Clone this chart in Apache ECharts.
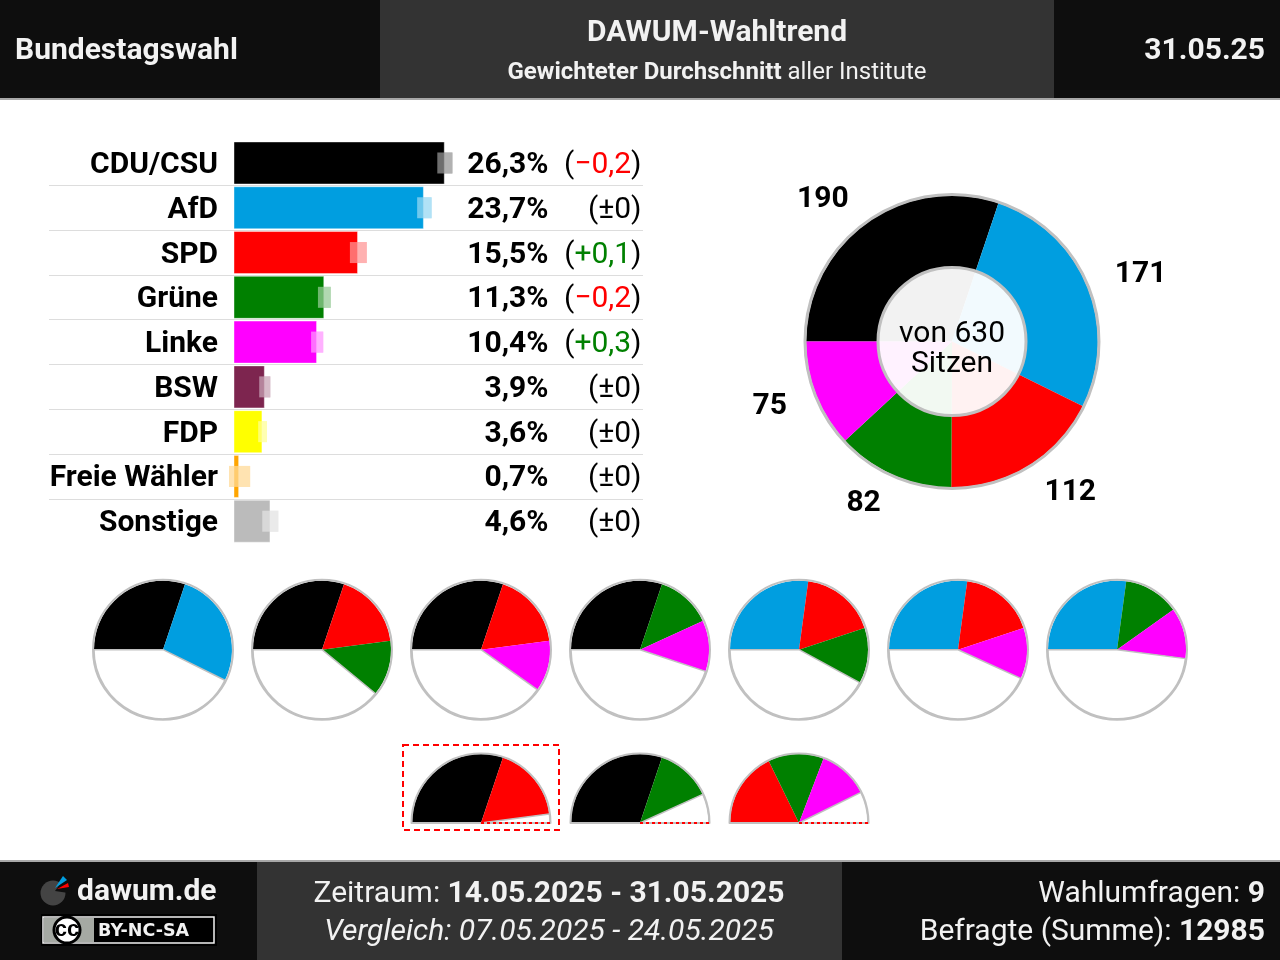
<!DOCTYPE html>
<html lang="de">
<head>
    <meta charset="UTF-8">
    <title>DAWUM-Wahltrend</title>
    <script src="https://cdn.jsdelivr.net/npm/echarts@6/dist/echarts.min.js"></script>
    <style>
        html, body { margin: 0; padding: 0; background: #fff; }
        #main { width: 1280px; height: 960px; }
    </style>
</head>
<body>
    <div id="main"></div>

    <script>
        var parties = ['CDU/CSU', 'AfD', 'SPD', 'Grüne', 'Linke', 'BSW', 'FDP', 'Freie Wähler', 'Sonstige']
        var partyColors = ['#000000', '#009ee0', '#ff0000', '#008000', '#ff00ff', '#7d254f', '#ffff00', '#ffa500', '#bbbbbb']
        var shares = [26.3, 23.7, 15.5, 11.3, 10.4, 3.9, 3.6, 0.7, 4.6]
        var rangeLow = [25.37, 22.86, 14.49, 10.51, 9.66, 3.2, 3.07, -0.56, 3.58]
        var rangeHigh = [27.25, 24.66, 16.59, 12.11, 11.17, 4.58, 4.17, 2.07, 5.58]
        var changes = [-0.2, 0, 0.1, -0.2, 0.3, 0, 0, 0, 0]

        var seatParties = ['CDU/CSU', 'AfD', 'SPD', 'Grüne', 'Linke']
        var seats = [190, 171, 112, 82, 75]
        var totalSeats = 630

        var fullCoalitions = [
            ['CDU/CSU', 'AfD'],
            ['CDU/CSU', 'SPD', 'Grüne'],
            ['CDU/CSU', 'SPD', 'Linke'],
            ['CDU/CSU', 'Grüne', 'Linke'],
            ['AfD', 'SPD', 'Grüne'],
            ['AfD', 'SPD', 'Linke'],
            ['AfD', 'Grüne', 'Linke']
        ]
        var halfCoalitions = [
            ['CDU/CSU', 'SPD'],
            ['CDU/CSU', 'Grüne'],
            ['SPD', 'Grüne', 'Linke']
        ]

        var FONT = 'Roboto'
        var RING = '#c0c0c0'
        var seatLabelNudge = [[2, -2], [-1, -1], [-3, 5], [3, 5], [0, 2]]
        var charts = echarts.init(document.getElementById('main'))

        function fmt(v) {
            return Math.abs(v).toFixed(1).replace('.', ',')
        }
        function changeText(v) {
            if (v === 0) return '{p|(±0)}'
            if (v < 0) return '{p|(}{r|−' + fmt(v) + '}{p|)}'
            return '{p|(}{g|+' + fmt(v) + '}{p|)}'
        }

        var series = []

        // balken
        series.push({
            type: 'bar',
            xAxisIndex: 0,
            yAxisIndex: 0,
            barWidth: 43,
            silent: true,
            animation: false,
            z: 2,
            data: shares.map(function (v, i) {
                return {
                    value: v,
                    itemStyle: { color: partyColors[i], borderColor: 'rgba(255,255,255,0.4)', borderWidth: 1 }
                }
            })
        })

        // unsicherheits-marker
        series.push({
            type: 'custom',
            xAxisIndex: 0,
            yAxisIndex: 0,
            silent: true,
            animation: false,
            z: 3,
            encode: { x: [0, 1], y: 2 },
            data: parties.map(function (p, i) { return [rangeLow[i], rangeHigh[i], i] }),
            renderItem: function (params, api) {
                var a = api.coord([api.value(0), api.value(2)])
                var b = api.coord([api.value(1), api.value(2)])
                var shape = { x: a[0], y: a[1] - 10.5, width: b[0] - a[0], height: 21 }
                return {
                    type: 'group',
                    children: [
                        { type: 'rect', shape: shape, style: { fill: partyColors[params.dataIndex], opacity: 0.54 } },
                        { type: 'rect', shape: shape, style: { fill: 'rgba(255,255,255,0.43)' } }
                    ]
                }
            }
        })

        // parteiname, prozent und veraenderung
        series.push({
            type: 'custom',
            xAxisIndex: 0,
            yAxisIndex: 0,
            silent: true,
            animation: false,
            encode: { x: 0, y: 2 },
            data: parties.map(function (p, i) { return [shares[i], changes[i], i] }),
            renderItem: function (params, api) {
                var y = api.coord([0, api.value(2)])[1] + 2.5
                return {
                    type: 'group',
                    children: [
                        {
                            type: 'text',
                            x: 218, y: y,
                            style: {
                                text: parties[params.dataIndex],
                                align: 'right', verticalAlign: 'middle',
                                fontFamily: FONT, fontSize: 30, fontWeight: 'bold', fill: '#000'
                            }
                        },
                        {
                            type: 'text',
                            x: 548.5, y: y,
                            style: {
                                text: fmt(api.value(0)) + '%',
                                align: 'right', verticalAlign: 'middle',
                                fontFamily: FONT, fontSize: 30, fontWeight: 'bold', fill: '#000'
                            }
                        },
                        {
                            type: 'text',
                            x: 641.5, y: y,
                            style: {
                                text: changeText(api.value(1)),
                                align: 'right', verticalAlign: 'middle',
                                rich: {
                                    p: { fontFamily: FONT, fontSize: 30, fill: '#000', color: '#000' },
                                    r: { fontFamily: FONT, fontSize: 30, fill: '#ff0000', color: '#ff0000' },
                                    g: { fontFamily: FONT, fontSize: 30, fill: '#008000', color: '#008000' }
                                }
                            }
                        }
                    ]
                }
            }
        })

        // sitzverteilung
        series.push({
            type: 'pie',
            center: [952, 341.5],
            radius: [0, 146],
            startAngle: 180,
            clockwise: true,
            silent: true,
            animation: false,
            label: {
                show: true,
                position: 'outside',
                formatter: '{c}',
                color: '#000',
                fontFamily: FONT,
                fontSize: 30,
                fontWeight: 'bold'
            },
            labelLine: { show: false, length: 26, length2: 0 },
            labelLayout: function (params) {
                var n = seatLabelNudge[params.dataIndex]
                return { dx: n[0], dy: n[1] }
            },
            data: seats.map(function (v, i) {
                return { name: seatParties[i], value: v, itemStyle: { color: partyColors[parties.indexOf(seatParties[i])] } }
            })
        })
        series.push(outline([952, 341.5], 147, 3, 360))
        series.push({
            type: 'pie',
            center: [952, 341.5],
            radius: [0, 74],
            silent: true,
            animation: false,
            z: 5,
            label: {
                show: true,
                position: 'center',
                offset: [0, 8],
                formatter: 'von ' + totalSeats + '\nSitzen',
                color: '#000',
                fontFamily: FONT,
                fontSize: 30,
                lineHeight: 30
            },
            itemStyle: { color: 'rgba(255,255,255,0.95)', borderColor: RING, borderWidth: 3 },
            data: [{ value: 1 }]
        })

        function outline(center, r, width, sweep) {
            return {
                type: 'pie',
                center: center,
                radius: [0, r],
                startAngle: 180,
                endAngle: 180 - sweep,
                silent: true,
                animation: false,
                z: 4,
                label: { show: false },
                labelLine: { show: false },
                itemStyle: { color: 'rgba(255,255,255,0)', borderColor: RING, borderWidth: width },
                data: [{ value: 1 }]
            }
        }

        function coalitionPie(members, center, total, half) {
            var sum = 0
            var data = members.map(function (name) {
                var v = seats[seatParties.indexOf(name)]
                sum += v
                return { name: name, value: v, itemStyle: { color: partyColors[parties.indexOf(name)] } }
            })
            data.push({
                name: 'Rest',
                value: total - sum,
                itemStyle: { color: '#fff', borderColor: RING, borderWidth: 1.5 }
            })
            return {
                type: 'pie',
                center: center,
                radius: [0, 69],
                startAngle: 180,
                endAngle: half ? 0 : -180,
                silent: true,
                animation: false,
                label: { show: false },
                labelLine: { show: false },
                data: data
            }
        }

        var topX = [163, 322, 481, 640, 799, 958, 1117]
        fullCoalitions.forEach(function (m, i) {
            series.push(coalitionPie(m, [topX[i], 649.7], totalSeats, false))
            series.push(outline([topX[i], 649.7], 70, 2, 360))
        })
        var bottomX = [481, 640, 799]
        halfCoalitions.forEach(function (m, i) {
            series.push(coalitionPie(m, [bottomX[i], 823], totalSeats / 2, true))
            series.push(outline([bottomX[i], 823], 69.5, 2, 180))
        })

        // kopf und fuss
        function box(x, y, w, h, fill) {
            return { type: 'rect', shape: { x: x, y: y, width: w, height: h }, style: { fill: fill } }
        }
        function label(x, y, text, align, size, rich, opts) {
            var style = {
                text: text,
                align: align,
                verticalAlign: 'middle',
                fontFamily: FONT,
                fontSize: size,
                fill: '#f2f2f2'
            }
            if (rich) style.rich = rich
            for (var k in (opts || {})) style[k] = opts[k]
            return { type: 'text', x: x, y: y, style: style }
        }
        function boldRich(size) {
            return {
                b: { fontFamily: FONT, fontSize: size, fontWeight: 'bold', fill: '#f2f2f2', color: '#f2f2f2' },
                n: { fontFamily: FONT, fontSize: size, fill: '#f2f2f2', color: '#f2f2f2' }
            }
        }

        var graphics = [
            box(0, 0, 1280, 98, '#0e0e0e'),
            box(380, 0, 674, 98, '#333333'),
            box(0, 98, 1280, 2, '#a8a8a8'),
            label(15, 51, 'Bundestagswahl', 'left', 30, null, { fontWeight: 'bold' }),
            label(717, 33, 'DAWUM-Wahltrend', 'center', 30, null, { fontWeight: 'bold' }),
            label(717, 73, '{b|Gewichteter Durchschnitt} {n|aller Institute}', 'center', 24, boldRich(24)),
            label(1265, 51, '31.05.25', 'right', 30, null, { fontWeight: 'bold' }),

            box(0, 860, 1280, 2, '#a8a8a8'),
            box(0, 862, 1280, 98, '#0e0e0e'),
            box(257, 862, 585, 98, '#333333'),

            // logo
            { type: 'circle', shape: { cx: 53, cy: 893, r: 12.5 }, style: { fill: '#444444' } },
            { type: 'sector', shape: { cx: 55, cy: 891, r: 17, r0: 0, startAngle: -0.95, endAngle: 0.15 }, style: { fill: '#0e0e0e' } },
            { type: 'polygon', shape: { points: [[55, 888], [63, 876], [67, 880]] }, style: { fill: '#009ee0' } },
            { type: 'polygon', shape: { points: [[57, 889], [68, 883], [69, 887]] }, style: { fill: '#ff0000' } },
            { type: 'text', x: 77, y: 892, style: { text: 'dawum.de', align: 'left', verticalAlign: 'middle', fontFamily: FONT, fontSize: 30, fontWeight: 'bold', fill: '#f2f2f2' } },

            // cc badge
            box(41, 914, 176, 32, '#000000'),
            { type: 'rect', shape: { x: 43, y: 917, width: 171, height: 26 }, style: { fill: '#000', stroke: '#f2f2f2', lineWidth: 1.5 } },
            box(44, 918, 50, 24, '#a5a9a3'),
            { type: 'circle', shape: { cx: 67, cy: 930, r: 13 }, style: { fill: '#fff', stroke: '#000', lineWidth: 3 } },
            { type: 'text', x: 67, y: 930, style: { text: 'cc', align: 'center', verticalAlign: 'middle', fontFamily: 'Liberation Sans', fontSize: 22, fontWeight: 'bold', fill: '#000' } },
            { type: 'text', x: 98, y: 931, style: { text: 'BY-NC-SA', align: 'left', verticalAlign: 'middle', fontFamily: 'DejaVu Sans', fontSize: 17.5, fontWeight: 'bold', fill: '#f2f2f2' } },

            label(549, 894, '{n|Zeitraum:} {b|14.05.2025 - 31.05.2025}', 'center', 30, boldRich(30)),
            label(549, 932, 'Vergleich: 07.05.2025 - 24.05.2025', 'center', 30, null, { fontStyle: 'italic' }),
            label(1265, 894, '{n|Wahlumfragen:} {b|9}', 'right', 30, boldRich(30)),
            label(1265, 932, '{n|Befragte (Summe):} {b|12985}', 'right', 30, boldRich(30)),

            // mehrheitsrahmen und -linien
            {
                type: 'rect',
                shape: { x: 403, y: 745, width: 156, height: 85 },
                style: { fill: 'rgba(0,0,0,0)', stroke: '#ff0000', lineWidth: 2, lineDash: [6, 4] }
            }
        ]
        bottomX.forEach(function (x) {
            graphics.push({
                type: 'line',
                shape: { x1: x, y1: 823, x2: x + 70, y2: 823 },
                style: { stroke: '#ff0000', lineWidth: 2, lineDash: [3, 3] }
            })
        })
        graphics.forEach(function (g) { g.z = 10 })

        var options = {
            animation: false,
            textStyle: { fontFamily: FONT },
            grid: [
                { left: 233.5, top: 140.6, width: 241, height: 403 },
                { left: 49, top: 140.6, width: 594, height: 403 }
            ],
            xAxis: [
                { type: 'value', gridIndex: 0, min: 0, max: 30, show: false },
                { type: 'value', gridIndex: 1, min: 0, max: 1, show: false }
            ],
            yAxis: [
                {
                    type: 'category',
                    gridIndex: 0,
                    inverse: true,
                    data: parties,
                    axisLine: { show: false },
                    axisTick: { show: false },
                    splitLine: { show: false },
                    axisLabel: { show: false }
                },
                {
                    type: 'category',
                    gridIndex: 1,
                    inverse: true,
                    data: parties,
                    axisLine: { show: false },
                    axisTick: { show: false },
                    axisLabel: { show: false },
                    splitLine: { show: true, showMinLine: false, showMaxLine: false, lineStyle: { color: '#dddddd', width: 1 } }
                }
            ],
            series: series,
            graphic: graphics
        }

        charts.setOption(options)
    </script>
</body>
</html>
